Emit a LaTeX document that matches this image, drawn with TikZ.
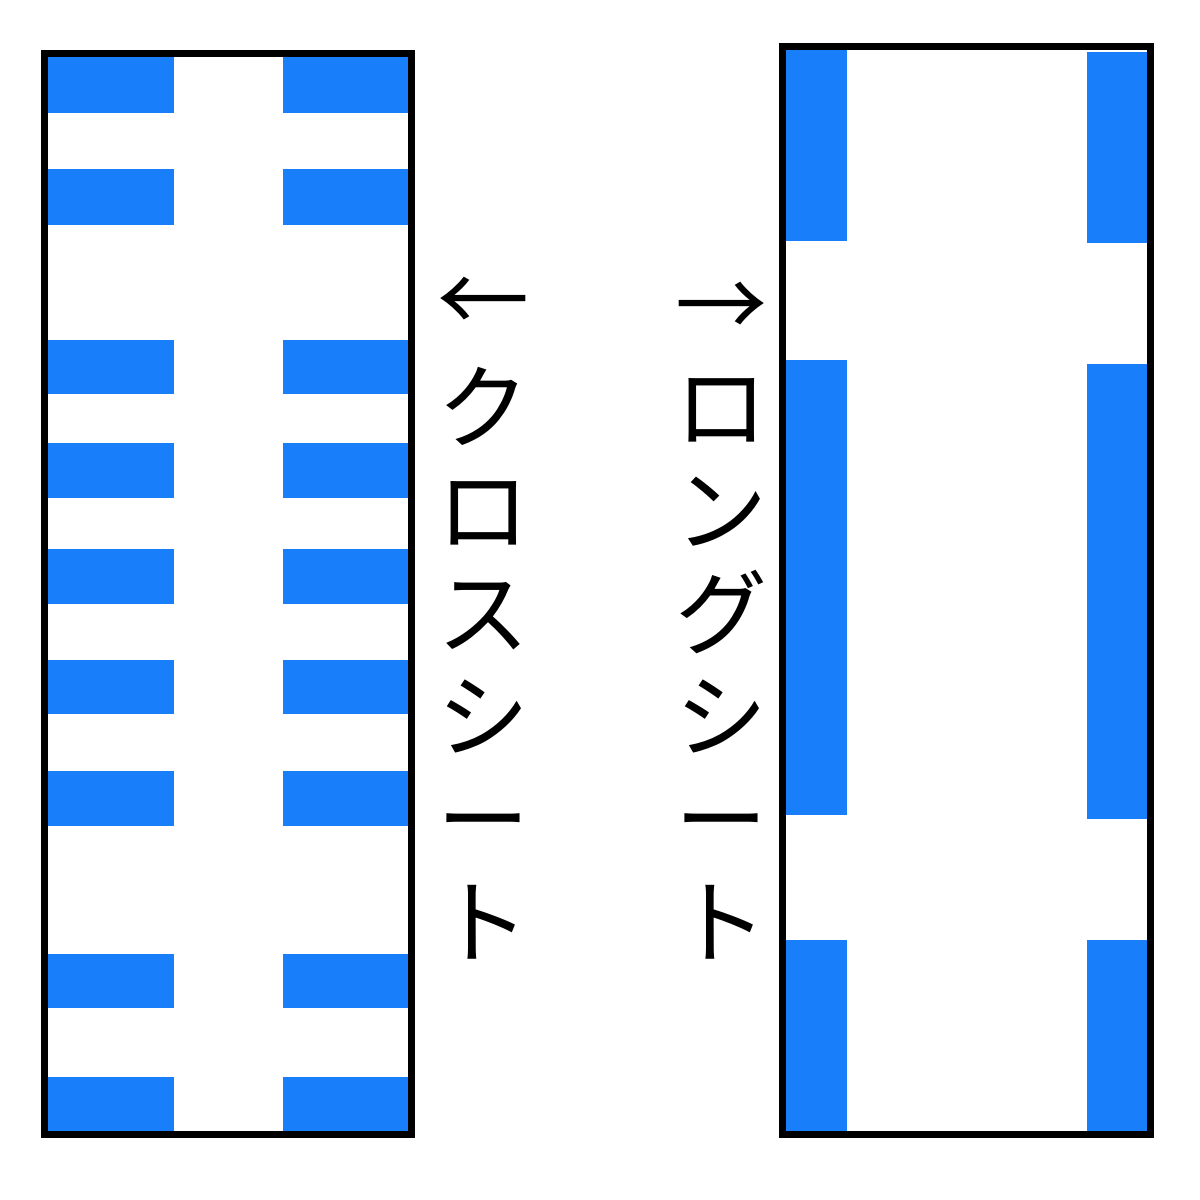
\documentclass[tikz,border=0pt]{standalone}
\usepackage{fontspec}
\newfontfamily\cjk{Noto Sans CJK JP}
\definecolor{seatblue}{RGB}{24,126,249}
\tikzset{
  seat/.style={fill=seatblue, draw=none},
  car/.style={draw=black, line width=3.5pt},
  vlabel/.style={inner sep=0pt, anchor=north, align=center, font=\cjk\fontsize{46}{51.5}\selectfont},
  arrowlabel/.style={inner sep=0pt, text height=0.88em, text depth=0.12em, font=\cjk\fontsize{46}{51.5}\selectfont}
}
\begin{document}
\begin{tikzpicture}[x=0.5pt, y=-0.5pt]
\useasboundingbox (0,0) rectangle (1200,1200);
\fill[white] (0,0) rectangle (1200,1200);
% left car: cross seats
\foreach \ya/\yb in {57/113,169/225,340/394,443/498,549/604,660/714,771/826,954/1008,1077/1131}{
  \path[seat] (48,\ya) rectangle (174,\yb);
  \path[seat] (283,\ya) rectangle (408,\yb);
}
\draw[car] (44.5,53.5) rectangle (411.5,1134.5);
% right car: long seats
\path[seat] (786,50) rectangle (847,241);
\path[seat] (786,360) rectangle (847,815);
\path[seat] (786,940) rectangle (847,1131);
\path[seat] (1087,52) rectangle (1148,243);
\path[seat] (1087,364) rectangle (1148,819);
\path[seat] (1087,940) rectangle (1148,1131);
\draw[car] (782.5,46.5) rectangle (1150.5,1134.5);
% labels
\node[arrowlabel] (la) at (483,326) {←};
\node[arrowlabel] (ra) at (721,331) {→};
\node[vlabel] (cross) at (483,360) {\rule{0pt}{0.88em}ク\\ロ\\ス\\シ\\ー\\ト};
\node[vlabel] (long) at (721,360) {\rule{0pt}{0.88em}ロ\\ン\\グ\\シ\\ー\\ト};
\end{tikzpicture}
\end{document}
